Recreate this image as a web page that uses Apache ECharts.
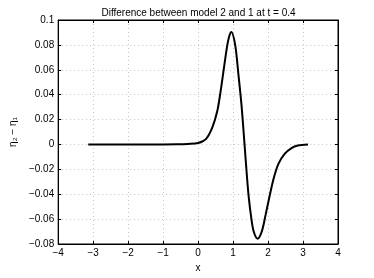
<!DOCTYPE html>
<html>
<head>
<meta charset="utf-8">
<script src="https://cdn.jsdelivr.net/npm/echarts@6/dist/echarts.min.js"></script>
<style>
  html, body { margin: 0; padding: 0; background: #fff; }
  #main { width: 374px; height: 278px; }
</style>
</head>
<body>
<div id="main"></div>
<script>
// values
var xs = [-3.1416, -2.5, -2, -1.5, -1, -0.6, -0.3, 0, 0.23, 0.41, 0.55, 0.645, 0.74, 0.83, 0.89, 0.95,
  1.06, 1.15, 1.24, 1.32, 1.40, 1.45, 1.52, 1.59, 1.70, 1.82, 1.93, 2.04, 2.16, 2.30, 2.48, 2.67, 2.85, 3.1416];
var diff = [0, 0, 0, 0, 0, 0.0001, 0.0004, 0.0011, 0.0045, 0.0139, 0.027, 0.043, 0.0617, 0.079, 0.087, 0.0904,
  0.080, 0.057, 0.032, 0.003, -0.027, -0.043, -0.059, -0.070, -0.0757, -0.070, -0.0566, -0.042, -0.0273, -0.0154, -0.0074, -0.0029, -0.0008, 0];
var xTicks = [-4, -3, -2, -1, 0, 1, 2, 3, 4];
var yTicks = [-0.08, -0.06, -0.04, -0.02, 0, 0.02, 0.04, 0.06, 0.08, 0.1];

var chart = echarts.init(document.getElementById('main'), null, { renderer: 'canvas' });

var font = 'Liberation Sans, Arial, sans-serif';
var fmt = function (v) {
  var s = String(parseFloat(v.toFixed(2)));
  return s.replace('-', '\u2212');
};

var pts = xs.map(function (x, i) { return [x, diff[i]]; });

var gridLine = { show: true, lineStyle: { color: '#c4c4c4', type: [1, 3], width: 1 } };
var boxLine = { show: true, onZero: false, lineStyle: { color: '#000' } };
var tick = { inside: true, length: 3, lineStyle: { color: '#000' } };

var option = {
  backgroundColor: '#fff',
  animation: false,
  title: {
    text: 'Difference between model 2 and 1 at t = 0.4',
    left: 193.5, top: 3, textAlign: 'center',
    textStyle: { fontFamily: font, fontSize: 10, fontWeight: 'normal', color: '#000' }
  },
  grid: { left: 49, right: 36, top: 20, bottom: 32, show: true, borderColor: '#000', borderWidth: 1 },
  xAxis: [{
    type: 'value', min: xTicks[0], max: xTicks[xTicks.length - 1], interval: 1,
    name: 'x', nameLocation: 'middle', nameGap: 19,
    nameTextStyle: { fontFamily: font, fontSize: 10, color: '#000' },
    axisLine: boxLine, axisTick: tick,
    axisLabel: { fontFamily: font, fontSize: 10, color: '#000', margin: 4, formatter: fmt },
    splitLine: gridLine
  }, {
    type: 'value', position: 'top', min: xTicks[0], max: xTicks[xTicks.length - 1], interval: 1,
    axisLine: boxLine, axisTick: tick,
    axisLabel: { show: false }, splitLine: { show: false }
  }],
  yAxis: [{
    type: 'value', min: yTicks[0], max: yTicks[yTicks.length - 1], interval: 0.02,
    name: '\u03b7\u2082 \u2212 \u03b7\u2081', nameLocation: 'middle', nameGap: 36, nameRotate: 90,
    nameTextStyle: { fontFamily: font, fontSize: 10, color: '#000' },
    axisLine: boxLine, axisTick: tick,
    axisLabel: { fontFamily: font, fontSize: 10, color: '#000', margin: 4, formatter: fmt },
    splitLine: gridLine
  }, {
    type: 'value', position: 'right', min: yTicks[0], max: yTicks[yTicks.length - 1], interval: 0.02,
    axisLine: boxLine, axisTick: tick,
    axisLabel: { show: false }, splitLine: { show: false }
  }],
  series: [{
    type: 'line', data: pts, smooth: 0.3, showSymbol: false,
    lineStyle: { color: '#000', width: 2 }
  }]
};

chart.setOption(option);
</script>
</body>
</html>
